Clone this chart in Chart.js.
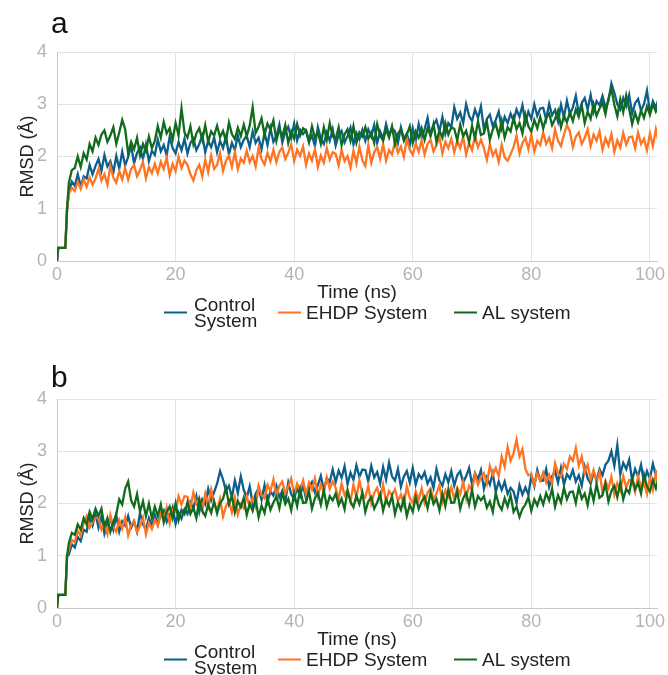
<!DOCTYPE html>
<html>
<head>
<meta charset="utf-8">
<script src="https://cdn.jsdelivr.net/npm/chart.js@4.4.1/dist/chart.umd.min.js"></script>
<style>
  html, body { margin: 0; padding: 0; background: #fff; }
  body { width: 668px; height: 675px; overflow: hidden; position: relative; }
  .panel { position: absolute; left: 0; width: 668px; height: 347px; }
</style>
</head>
<body>
<div class="panel" style="top:0"><canvas id="chartA" width="668" height="347"></canvas></div>
<div class="panel" style="top:347px"><canvas id="chartB" width="668" height="347"></canvas></div>
<script>
// series labels and colours
const seriesNames = ["Control System", "EHDP System", "AL system"];
const seriesColors = ["#0c5e8b", "#ff7422", "#116b1d"];
const yTicks = [0, 1, 2, 3, 4];
const xTicks = [0, 20, 40, 60, 80, 100];

// first frames (same for all runs): t in ns, RMSD in Å
const startTimes = [0, 0.2, 1.4, 1.7];
const startRmsd = [0, 0.25, 0.25, 1.0];

// after that one sample every 0.5 ns from 2 ns
const sampleStart = 2;
const sampleStep = 0.5;

// panel a
const controlA = [
  1.30,1.52,1.44,1.66,1.42,1.62,1.58,1.84,1.66,1.82,
  1.95,1.73,2.03,1.81,1.91,1.69,2.01,1.77,2.09,1.83,
  1.99,2.21,1.87,2.07,2.17,1.95,2.23,1.91,2.11,2.03,
  2.32,2.10,2.22,2.02,2.38,2.16,2.06,2.28,2.12,2.34,
  2.06,2.26,2.34,2.12,2.24,2.40,2.08,2.30,2.18,2.36,
  2.08,2.30,2.16,2.38,2.04,2.26,2.12,2.40,2.18,2.32,
  2.40,2.18,2.48,2.26,2.36,2.14,2.46,2.22,2.54,2.28,
  2.39,2.61,2.27,2.47,2.57,2.35,2.63,2.31,2.51,2.43,
  2.50,2.28,2.40,2.20,2.56,2.34,2.24,2.46,2.30,2.52,
  2.21,2.41,2.49,2.27,2.39,2.55,2.23,2.45,2.33,2.51,
  2.30,2.52,2.38,2.60,2.26,2.48,2.34,2.62,2.40,2.54,
  2.48,2.26,2.56,2.34,2.44,2.22,2.54,2.30,2.62,2.36,
  2.52,2.74,2.40,2.60,2.70,2.48,2.76,2.44,2.64,2.56,
  2.94,2.72,2.84,2.64,3.00,2.78,2.68,2.90,2.74,2.96,
  2.52,2.72,2.80,2.58,2.70,2.86,2.54,2.76,2.64,2.82,
  2.68,2.90,2.76,2.98,2.64,2.86,2.72,3.00,2.78,2.92,
  2.93,2.71,3.01,2.79,2.89,2.67,2.99,2.75,3.07,2.81,
  2.94,3.16,2.82,3.02,3.12,2.90,3.18,2.86,3.06,2.98,
  3.16,2.94,3.06,3.40,3.22,3.00,2.90,3.12,2.96,3.18,
  2.82,3.02,3.10,2.88,3.00,3.26,2.84,3.06,2.94,3.12
];
const ehdpA = [
  1.28,1.40,1.34,1.52,1.38,1.56,1.42,1.60,1.46,1.58,
  1.76,1.54,1.66,1.46,1.82,1.60,1.50,1.72,1.56,1.78,
  1.56,1.76,1.84,1.62,1.74,1.90,1.58,1.80,1.68,1.86,
  1.68,1.90,1.76,1.98,1.64,1.86,1.72,2.00,1.78,1.92,
  1.84,1.66,1.54,1.74,1.84,1.62,1.94,1.70,2.02,1.76,
  1.84,2.06,1.72,1.92,2.02,1.80,2.08,1.76,1.96,1.88,
  2.11,1.89,2.01,1.81,2.17,1.95,1.85,2.07,1.91,2.13,
  1.89,2.09,2.17,1.95,2.07,2.23,1.91,2.13,2.01,2.19,
  1.84,2.06,1.92,2.14,1.80,2.02,1.88,2.16,1.94,2.08,
  2.05,1.83,2.13,1.91,2.01,1.79,2.11,1.87,2.19,1.93,
  1.82,2.22,1.88,2.08,2.18,1.96,2.24,1.92,2.12,2.04,
  2.29,2.07,2.19,1.99,2.35,2.13,2.03,2.25,2.09,2.31,
  2.04,2.24,2.32,2.10,2.22,2.38,2.06,2.28,2.16,2.34,
  2.08,2.30,2.16,2.38,2.04,2.26,2.12,2.40,2.18,2.32,
  2.16,1.94,2.24,2.02,2.12,1.90,2.22,1.98,1.92,2.04,
  2.18,2.40,2.06,2.26,2.36,2.14,2.42,2.10,2.30,2.22,
  2.46,2.24,2.36,2.16,2.52,2.30,2.20,2.42,2.60,2.48,
  2.18,2.38,2.46,2.24,2.36,2.52,2.20,2.42,2.30,2.48,
  2.13,2.35,2.21,2.43,2.09,2.31,2.17,2.45,2.23,2.37,
  2.38,2.16,2.46,2.24,2.34,2.12,2.44,2.20,2.52,2.26
];
const alA = [
  1.50,1.74,1.78,2.00,1.80,2.06,1.94,2.24,2.10,2.36,
  2.22,2.42,2.50,2.28,2.40,2.56,2.24,2.46,2.70,2.52,
  2.06,2.28,2.14,2.36,2.02,2.24,2.10,2.38,2.16,2.30,
  2.58,2.36,2.66,2.44,2.54,2.32,2.64,2.40,2.92,2.46,
  2.36,2.58,2.24,2.44,2.54,2.32,2.60,2.28,2.48,2.40,
  2.59,2.37,2.49,2.29,2.65,2.43,2.33,2.55,2.39,2.61,
  2.39,2.59,2.94,2.45,2.57,2.73,2.41,2.63,2.51,2.69,
  2.30,2.52,2.38,2.60,2.26,2.48,2.34,2.62,2.40,2.54,
  2.50,2.28,2.58,2.36,2.46,2.24,2.56,2.32,2.64,2.38,
  2.34,2.56,2.22,2.42,2.52,2.30,2.58,2.26,2.46,2.38,
  2.56,2.34,2.46,2.26,2.62,2.40,2.30,2.52,2.36,2.58,
  2.24,2.44,2.52,2.30,2.42,2.58,2.26,2.48,2.36,2.54,
  2.32,2.54,2.40,2.62,2.28,2.50,2.36,2.64,2.42,2.56,
  2.53,2.31,2.61,2.39,2.49,2.27,2.59,2.35,2.67,2.41,
  2.44,2.66,2.32,2.52,2.62,2.40,2.68,2.36,2.56,2.48,
  2.74,2.52,2.64,2.44,2.80,2.58,2.48,2.70,2.54,2.76,
  2.54,2.74,2.82,2.60,2.72,2.88,2.56,2.78,2.66,2.84,
  2.68,2.90,2.76,2.98,2.64,2.86,2.72,3.00,2.78,2.92,
  3.03,2.81,3.11,3.30,2.99,2.77,3.09,2.85,3.17,2.91,
  2.62,2.84,2.66,2.88,2.74,2.96,2.80,3.00,2.86,2.98
];

// panel b
const controlB = [
  1.02,1.22,1.16,1.36,1.28,1.50,1.46,1.74,1.58,1.80,
  1.54,1.76,1.42,1.62,1.72,1.50,1.78,1.46,1.66,1.58,
  1.76,1.54,1.66,1.46,1.82,1.60,1.50,1.72,1.56,1.78,
  1.59,1.79,1.87,1.65,1.77,1.93,1.61,1.83,1.71,1.89,
  1.80,2.02,1.90,2.14,1.84,2.08,1.98,2.28,2.06,2.22,
  2.38,2.62,2.46,2.24,2.34,2.12,2.44,2.20,2.52,2.26,
  2.11,2.33,1.99,2.19,2.29,2.07,2.35,2.03,2.23,2.15,
  2.34,2.12,2.24,2.04,2.40,2.18,2.08,2.30,2.14,2.36,
  2.09,2.31,2.41,2.21,2.35,2.53,2.25,2.49,2.41,2.65,
  2.41,2.63,2.49,2.71,2.37,2.59,2.45,2.73,2.51,2.65,
  2.64,2.42,2.72,2.50,2.60,2.38,2.70,2.46,2.78,2.52,
  2.44,2.66,2.32,2.52,2.62,2.40,2.68,2.36,2.56,2.48,
  2.60,2.38,2.50,2.30,2.66,2.44,2.34,2.56,2.40,2.62,
  2.34,2.54,2.62,2.40,2.52,2.68,2.36,2.58,2.46,2.64,
  2.28,2.50,2.36,2.58,2.22,2.42,2.26,2.42,2.18,2.30,
  2.23,2.01,2.35,2.17,2.31,2.17,2.53,2.33,2.64,2.44,
  2.44,2.66,2.32,2.52,2.62,2.40,2.68,2.36,2.56,2.48,
  2.64,2.42,2.54,2.34,2.70,2.48,2.38,2.60,2.44,2.66,
  2.54,2.74,2.82,3.00,2.72,3.12,2.56,2.78,2.66,2.84,
  2.44,2.66,2.52,2.74,2.40,2.62,2.48,2.76,2.54,2.68
];
const ehdpB = [
  1.12,1.30,1.26,1.48,1.38,1.62,1.76,1.54,1.64,1.72,
  1.72,1.50,1.62,1.42,1.78,1.56,1.46,1.68,1.52,1.74,
  1.39,1.59,1.67,1.45,1.57,1.73,1.41,1.63,1.51,1.69,
  1.58,1.80,1.68,1.92,1.62,1.88,1.84,2.14,1.98,2.14,
  2.13,1.91,2.21,1.99,2.09,1.87,2.19,1.95,2.27,2.01,
  1.87,2.09,1.75,1.95,2.05,1.83,2.11,1.79,1.99,1.91,
  2.14,1.94,2.10,1.94,2.34,2.16,2.10,2.36,2.24,2.46,
  2.14,2.34,2.42,2.20,2.32,2.48,2.16,2.38,2.26,2.44,
  2.18,2.40,2.26,2.48,2.14,2.36,2.22,2.50,2.28,2.42,
  2.30,2.08,2.38,2.16,2.26,2.04,2.36,2.12,2.44,2.18,
  2.12,2.34,2.00,2.20,2.30,2.08,2.36,2.04,2.24,2.16,
  2.27,2.05,2.17,1.97,2.33,2.11,2.01,2.23,2.07,2.29,
  2.01,2.21,2.29,2.07,2.19,2.35,2.03,2.25,2.13,2.31,
  2.08,2.30,2.18,2.42,2.10,2.34,2.26,2.56,2.36,2.50,
  2.58,2.38,2.72,2.54,2.68,2.52,2.90,2.70,3.08,2.82,
  2.96,3.22,2.90,3.04,2.66,2.54,2.56,2.36,2.58,2.44,
  2.59,2.40,2.55,2.38,2.77,2.58,2.51,2.76,2.66,2.90,
  2.82,3.06,2.72,2.90,2.58,2.74,2.46,2.64,2.40,2.60,
  2.21,2.43,2.29,2.51,2.17,2.39,2.25,2.53,2.31,2.45,
  2.44,2.22,2.52,2.30,2.40,2.18,2.50,2.26,2.58,2.32
];
const alB = [
  1.24,1.44,1.40,1.60,1.50,1.72,1.60,1.84,1.70,1.90,
  1.76,1.90,1.56,1.72,1.46,1.64,1.80,2.08,1.98,2.28,
  2.42,2.06,1.94,2.18,1.84,2.04,1.76,2.00,1.72,1.94,
  1.76,1.98,1.64,1.84,1.94,1.72,2.00,1.68,1.88,1.80,
  2.02,1.80,1.92,1.72,2.08,1.86,1.76,1.98,1.82,2.04,
  1.81,2.01,2.09,2.30,1.99,2.15,1.83,2.05,1.93,2.11,
  1.78,2.00,1.86,2.08,1.74,1.96,1.82,2.10,1.88,2.02,
  2.13,1.91,2.21,1.99,2.09,1.87,2.19,1.95,2.27,2.01,
  2.02,2.24,1.90,2.10,2.20,1.98,2.26,1.94,2.14,2.06,
  2.19,1.97,2.09,1.89,2.25,2.03,1.93,2.15,1.99,2.21,
  1.84,2.04,2.12,1.90,2.02,2.18,1.86,2.08,1.96,2.14,
  1.80,2.02,1.88,2.10,1.76,1.98,1.84,2.12,1.90,2.04,
  2.13,1.91,2.21,1.99,2.09,1.87,2.19,1.95,2.27,2.01,
  2.02,2.24,1.90,2.10,2.20,1.98,2.26,1.94,2.14,2.06,
  2.14,1.92,2.04,1.84,2.20,1.98,1.88,2.10,1.94,2.16,
  1.84,1.94,1.74,1.90,1.98,2.12,1.86,2.08,1.96,2.14,
  1.98,2.20,2.06,2.28,1.94,2.16,2.02,2.30,2.08,2.22,
  2.23,2.01,2.31,2.09,2.19,1.97,2.29,2.05,2.37,2.11,
  2.16,2.38,2.04,2.24,2.34,2.12,2.40,2.08,2.28,2.20,
  2.49,2.27,2.39,2.19,2.55,2.33,2.23,2.45,2.29,2.51
];

const FONT = "'Liberation Sans', Arial, sans-serif";

function toPoints(values) {
  const pts = startTimes.map((t, i) => ({ x: t, y: startRmsd[i] }));
  values.forEach((v, i) => pts.push({ x: sampleStart + i * sampleStep, y: v }));
  return pts;
}

// letter + legend, drawn by hand so "Control System" can wrap on two lines
const panelDecor = {
  id: "panelDecor",
  afterDraw(chart, args, opts) {
    const ctx = chart.ctx;
    ctx.save();
    ctx.fillStyle = "#111";
    ctx.font = "30px " + FONT;
    ctx.textBaseline = "alphabetic";
    ctx.textAlign = "left";
    ctx.fillText(opts.letter, 51, opts.letterBase);

    const items = [
      { x: 164, lines: ["Control", "System"] },
      { x: 278, lines: ["EHDP System"] },
      { x: 454, lines: ["AL system"] },
    ];
    ctx.font = "19px " + FONT;
    ctx.textBaseline = "middle";
    items.forEach((it, i) => {
      ctx.strokeStyle = seriesColors[i];
      ctx.lineWidth = 2;
      ctx.beginPath();
      ctx.moveTo(it.x, 312.5);
      ctx.lineTo(it.x + 23, 312.5);
      ctx.stroke();
      ctx.fillStyle = "#222";
      if (it.lines.length === 2) {
        ctx.fillText(it.lines[0], it.x + 30, 306);
        ctx.fillText(it.lines[1], it.x + 30, 322);
      } else {
        ctx.fillText(it.lines[0], it.x + 28, 313.5);
      }
    });
    ctx.restore();
  },
};

function makeChart(id, letter, letterBase, control, ehdp, al) {
  const series = [control, ehdp, al];
  return new Chart(document.getElementById(id), {
    type: "line",
    data: {
      datasets: series.map((vals, i) => ({
        label: seriesNames[i],
        data: toPoints(vals),
        borderColor: seriesColors[i],
        borderWidth: 2.3,
        pointRadius: 0,
        tension: 0,
        order: 3 - i,
      })),
    },
    options: {
      responsive: false,
      animation: false,
      layout: { padding: { left: 0, right: 5, top: 52, bottom: 0 } },
      plugins: {
        legend: { display: false },
        tooltip: { enabled: false },
        panelDecor: { letter: letter, letterBase: letterBase },
      },
      scales: {
        x: {
          type: "linear",
          min: 0,
          max: 101.2,
          afterBuildTicks: (s) => { s.ticks = xTicks.map((v) => ({ value: v })); },
          afterFit: (s) => { s.height = 86; },
          ticks: { color: "#b4b4b4", font: { family: FONT, size: 18 }, padding: 3, maxRotation: 0 },
          grid: { color: "#e2e2e2", drawTicks: false },
          border: { color: "#c8c8c8" },
          title: {
            display: true,
            text: "Time (ns)",
            color: "#222",
            font: { family: FONT, size: 19 },
            padding: { top: 0, bottom: 43 },
          },
        },
        y: {
          min: 0,
          max: 4,
          afterBuildTicks: (s) => { s.ticks = yTicks.map((v) => ({ value: v })); },
          afterFit: (s) => { s.width = 57; },
          ticks: { color: "#b4b4b4", font: { family: FONT, size: 18 }, padding: 10 },
          grid: { color: "#e2e2e2", drawTicks: false },
          border: { color: "#c8c8c8" },
          title: {
            display: true,
            text: "RMSD (Å)",
            color: "#222",
            font: { family: FONT, size: 18 },
            padding: { top: 17, bottom: 0 },
          },
        },
      },
    },
    plugins: [panelDecor],
  });
}

makeChart("chartA", "a", 33, controlA, ehdpA, alA);
makeChart("chartB", "b", 40, controlB, ehdpB, alB);
</script>
</body>
</html>
